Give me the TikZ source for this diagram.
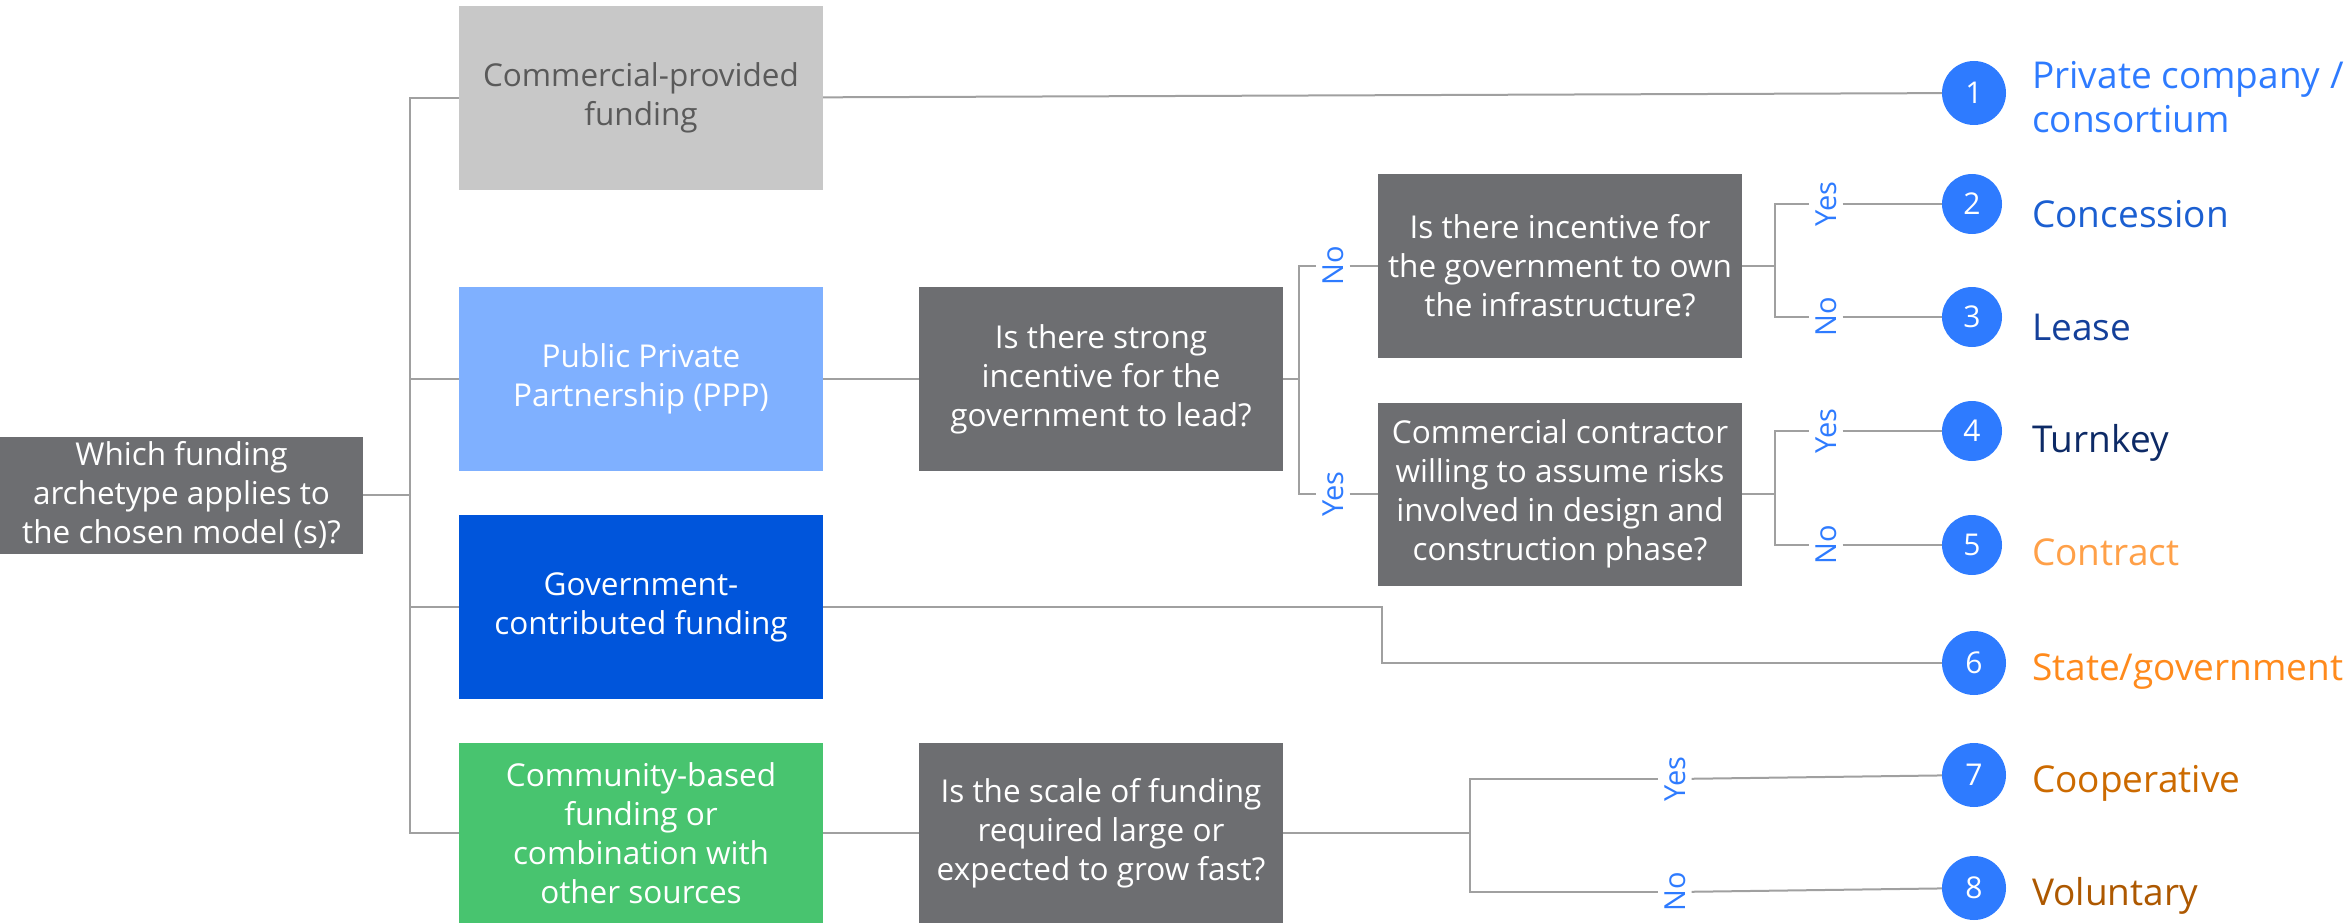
\documentclass[tikz,border=0pt]{standalone}
\usepackage{fontspec}
\setmainfont{Open Sans}
\definecolor{qgray}{HTML}{6D6E71}
\definecolor{cgray}{HTML}{C8C8C8}
\definecolor{ctext}{HTML}{5A5A5A}
\definecolor{pppblue}{HTML}{7FB0FF}
\definecolor{govblue}{HTML}{0055DB}
\definecolor{cgreen}{HTML}{48C46F}
\definecolor{cblue}{HTML}{2E7BFF}
\definecolor{linegray}{HTML}{A0A0A0}
\definecolor{lone}{HTML}{2E7BFF}
\definecolor{ltwo}{HTML}{1B5FD1}
\definecolor{lthree}{HTML}{14409A}
\definecolor{lfour}{HTML}{0D2A66}
\definecolor{lfive}{HTML}{FFA048}
\definecolor{lsix}{HTML}{FF8A1C}
\definecolor{lseven}{HTML}{CC6A00}
\definecolor{leight}{HTML}{AD5800}
\begin{document}
\begin{tikzpicture}[x=1pt,y=-1pt,
  box/.style={rectangle, inner sep=0pt, align=center, minimum width=364pt, minimum height=184pt, font=\fontsize{31.5}{39}\selectfont},
  qbox/.style={box, fill=qgray, text=white},
  num/.style={circle, fill=cblue, text=white, inner sep=0pt, minimum size=60pt, font=\fontsize{30}{30}\selectfont},
  bignum/.style={num, minimum size=64pt},
  res/.style={inner sep=0pt, anchor=base west, align=left, font=\fontsize{37}{44}\selectfont},
  yn/.style={rotate=90, text=cblue, inner xsep=2pt, inner ysep=6pt, font=\fontsize{29}{29}\selectfont},
  link/.style={draw=linegray, line width=2pt}
]
\useasboundingbox (0,0) rectangle (2346,923);

% main boxes
\node[qbox, minimum width=363pt, minimum height=117pt] (q0) at (181.5,495) {Which funding\\archetype applies to\\the chosen model (s)?};
\node[box, fill=cgray, text=ctext] (com) at (641,98) {Commercial-provided\\funding};
\node[box, fill=pppblue, text=white] (ppp) at (641,379) {Public Private\\Partnership (PPP)};
\node[box, fill=govblue, text=white] (gov) at (641,607) {Government-\\contributed funding};
\node[box, fill=cgreen, text=white, minimum height=180pt] (cmb) at (641,833) {Community-based\\funding or\\combination with\\other sources};

% questions
\node[qbox] (qa) at (1101,379) {Is there strong\\incentive for the\\government to lead?};
\node[qbox, minimum height=183pt] (qb) at (1560,266) {Is there incentive for\\the government to own\\the infrastructure?};
\node[qbox, minimum height=183pt] (qc) at (1560,494) {Commercial contractor\\willing to assume risks\\involved in design and\\construction phase?};
\node[qbox, minimum height=180pt] (qd) at (1101,833) {Is the scale of funding\\required large or\\expected to grow fast?};

% circles
\node[bignum] (c1) at (1974,93) {1};
\node[num] (c2) at (1972,204) {2};
\node[num] (c3) at (1972,317) {3};
\node[num] (c4) at (1972,431) {4};
\node[num] (c5) at (1972,545) {5};
\node[bignum] (c6) at (1974,663) {6};
\node[bignum] (c7) at (1974,775) {7};
\node[bignum] (c8) at (1974,888) {8};

% results
\node[res, text=lone] (r1) at (2032,133) {Private company /\\consortium};
\node[res, text=ltwo] (r2) at (2032,227) {Concession};
\node[res, text=lthree] (r3) at (2032,340) {Lease};
\node[res, text=lfour] (r4) at (2032,452) {Turnkey};
\node[res, text=lfive] (r5) at (2032,565) {Contract};
\node[res, text=lsix] (r6) at (2032,680) {State/government};
\node[res, text=lseven] (r7) at (2032,792) {Cooperative};
\node[res, text=leight] (r8) at (2032,905) {Voluntary};

% yes/no labels
\node[yn] (a1) at (1333,266) {No};
\node[yn] (a2) at (1333,494) {Yes};
\node[yn] (b1) at (1826,204) {Yes};
\node[yn] (b2) at (1826,317) {No};
\node[yn] (d1) at (1826,431) {Yes};
\node[yn] (d2) at (1826,545) {No};
\node[yn] (e1) at (1675,779) {Yes};
\node[yn] (e2) at (1675,892) {No};

% junctions
\coordinate (t0) at (410,495);
\coordinate (jA) at (1299,379);
\coordinate (jB) at (1775,266);
\coordinate (jC) at (1775,494);
\coordinate (gb) at (1382,607);
\coordinate (jD) at (1470,833);

% connectors
\draw[link] (q0.east) -- (t0);
\draw[link] (com.west) -| (t0);
\draw[link] (ppp.west) -| (t0);
\draw[link] (gov.west) -| (t0);
\draw[link] (cmb.west) -| (t0);
\draw[link] (com) -- (c1);
\draw[link] (ppp) -- (qa);
\draw[link] (qa.east) -- (jA);
\draw[link] (jA) |- (a1);
\draw[link] (a1) -- (qb);
\draw[link] (jA) |- (a2);
\draw[link] (a2) -- (qc);
\draw[link] (qb.east) -- (jB);
\draw[link] (jB) |- (b1);
\draw[link] (b1) -- (c2);
\draw[link] (jB) |- (b2);
\draw[link] (b2) -- (c3);
\draw[link] (qc.east) -- (jC);
\draw[link] (jC) |- (d1);
\draw[link] (d1) -- (c4);
\draw[link] (jC) |- (d2);
\draw[link] (d2) -- (c5);
\draw[link] (gov.east) -- (gb) |- (c6);
\draw[link] (cmb) -- (qd);
\draw[link] (qd.east) -- (jD);
\draw[link] (jD) |- (e1);
\draw[link] (e1) -- (c7);
\draw[link] (jD) |- (e2);
\draw[link] (e2) -- (c8);
\end{tikzpicture}
\end{document}
